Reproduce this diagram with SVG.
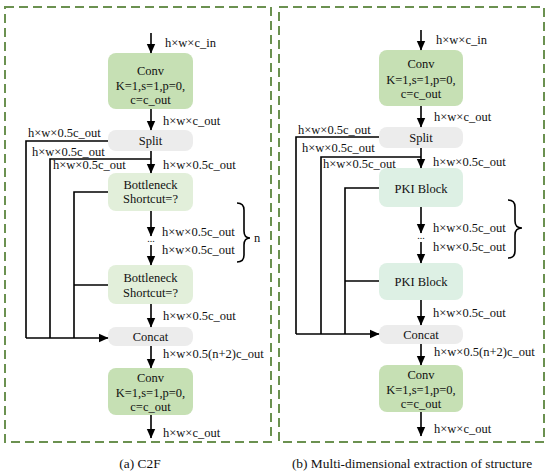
<svg xmlns="http://www.w3.org/2000/svg" width="550" height="474" viewBox="0 0 550 474">
<defs>
<marker id="ah" markerWidth="10" markerHeight="10" refX="9" refY="5" orient="auto" markerUnits="userSpaceOnUse">
<path d="M0,0.8 L9.5,5 L0,9.2 Z" fill="#000"/>
</marker>
<style>
text{font-family:"Liberation Serif","Times New Roman",serif;font-size:12.5px;fill:#111}
.c{text-anchor:middle}
.frame{fill:none;stroke:#6b9150;stroke-width:2;stroke-dasharray:9 5}
.conv{fill:#c6e0b4}
.bn{fill:#e2efda}
.gr{fill:#ececec}
.pki{fill:#ddf0e4}
.ln{fill:none;stroke:#000;stroke-width:1.6}
.ar{fill:none;stroke:#000;stroke-width:1.6;marker-end:url(#ah)}
.cap{font-size:13.4px}
</style>
</defs>
<rect width="550" height="474" fill="#fff"/>

<rect class="frame" x="5" y="7" width="266" height="435"/>
<rect class="frame" x="279" y="7" width="265" height="435"/>

<!-- Left panel nodes -->
<g id="a_conv1"><rect class="conv" x="108" y="53" width="85" height="56" rx="8"/>
<text class="c" x="150.5" y="75">Conv</text><text class="c" x="150.5" y="89.5">K=1,s=1,p=0,</text><text class="c" x="150.5" y="103.5">c=c_out</text></g>
<g id="a_split"><rect class="gr" x="108" y="130" width="85" height="21" rx="8"/><text class="c" x="150.5" y="145">Split</text></g>
<g id="a_bn1"><rect class="bn" x="108" y="173" width="85" height="38" rx="8"/>
<text class="c" x="150.5" y="188.5">Bottleneck</text><text class="c" x="150.5" y="203">Shortcut=?</text></g>
<g id="a_bn2"><rect class="bn" x="108" y="265" width="85" height="39" rx="8"/>
<text class="c" x="150.5" y="282">Bottleneck</text><text class="c" x="150.5" y="296.5">Shortcut=?</text></g>
<g id="a_concat"><rect class="gr" x="108" y="327" width="85" height="19" rx="8"/><text class="c" x="150.5" y="341">Concat</text></g>
<g id="a_conv2"><rect class="conv" x="108" y="368" width="85" height="47" rx="8"/>
<text class="c" x="150.5" y="382">Conv</text><text class="c" x="150.5" y="396.5">K=1,s=1,p=0,</text><text class="c" x="150.5" y="411">c=c_out</text></g>

<!-- Right panel nodes -->
<g id="b_conv1"><rect class="conv" x="379" y="50" width="84" height="56" rx="8"/>
<text class="c" x="421" y="68">Conv</text><text class="c" x="421" y="84">K=1,s=1,p=0,</text><text class="c" x="421" y="98">c=c_out</text></g>
<g id="b_split"><rect class="gr" x="379" y="127" width="84" height="21" rx="8"/><text class="c" x="421" y="142">Split</text></g>
<g id="b_pki1"><rect class="pki" x="379" y="168" width="84" height="39" rx="8"/><text class="c" x="421" y="192.5">PKI Block</text></g>
<g id="b_pki2"><rect class="pki" x="379" y="263" width="84" height="37" rx="8"/><text class="c" x="421" y="285.5">PKI Block</text></g>
<g id="b_concat"><rect class="gr" x="379" y="325" width="84" height="19" rx="8"/><text class="c" x="421" y="338.5">Concat</text></g>
<g id="b_conv2"><rect class="conv" x="379" y="365" width="84" height="47" rx="8"/>
<text class="c" x="421" y="378.5">Conv</text><text class="c" x="421" y="394">K=1,s=1,p=0,</text><text class="c" x="421" y="408">c=c_out</text></g>

<!-- Connectors -->
<g id="connectors">
<line class="ar" x1="151" y1="33" x2="151" y2="53"/>
<line class="ar" x1="151" y1="109" x2="151" y2="130"/>
<line class="ar" x1="151" y1="151" x2="151" y2="173"/>
<line class="ar" x1="151" y1="211" x2="151" y2="236"/>
<line class="ar" x1="151" y1="245" x2="151" y2="265"/>
<line class="ar" x1="151" y1="304" x2="151" y2="327"/>
<line class="ar" x1="151" y1="346" x2="151" y2="368"/>
<line class="ar" x1="151" y1="415" x2="151" y2="438"/>
<polyline class="ln" points="108,141 26,141 26,338"/>
<polyline class="ln" points="151,159 50,159 50,338"/>
<polyline class="ln" points="108,192 74,192 74,338"/>
<line class="ln" x1="74" y1="285" x2="108" y2="285"/>
<line class="ar" x1="26" y1="338" x2="108" y2="338"/>

<line class="ar" x1="421" y1="30" x2="421" y2="50"/>
<line class="ar" x1="421" y1="106" x2="421" y2="127"/>
<line class="ar" x1="421" y1="148" x2="421" y2="168"/>
<line class="ar" x1="421" y1="207" x2="421" y2="233"/>
<line class="ar" x1="421" y1="242" x2="421" y2="263"/>
<line class="ar" x1="421" y1="300" x2="421" y2="325"/>
<line class="ar" x1="421" y1="344" x2="421" y2="365"/>
<line class="ar" x1="421" y1="412" x2="421" y2="436"/>
<polyline class="ln" points="379,137 296,137 296,334"/>
<polyline class="ln" points="421,157 321,157 321,334"/>
<polyline class="ln" points="379,188 345,188 345,334"/>
<line class="ln" x1="345" y1="281" x2="379" y2="281"/>
<line class="ar" x1="296" y1="334" x2="379" y2="334"/>

<path class="ln" d="M237,203 Q244,203 244,210 L244,231 Q244,238 250,238 Q244,238 244,245 L244,255 Q244,262 237,262"/>
<path class="ln" d="M508,200 Q515,200 515,207 L515,221 Q515,228 522,228 Q515,228 515,235 L515,251 Q515,258 508,258"/>
</g>

<!-- dots -->
<text class="c" x="151" y="242" style="font-size:10px">...</text>
<text class="c" x="421" y="239" style="font-size:10px">...</text>

<!-- Left labels -->
<text x="165" y="47">h×w×c_in</text>
<text x="163" y="125">h×w×c_out</text>
<text x="28" y="137">h×w×0.5c_out</text>
<text x="32" y="156">h×w×0.5c_out</text>
<text x="53" y="169">h×w×0.5c_out</text>
<text x="163" y="169">h×w×0.5c_out</text>
<text x="162" y="236">h×w×0.5c_out</text>
<text x="162" y="254">h×w×0.5c_out</text>
<text x="254" y="242">n</text>
<text x="163" y="320">h×w×0.5c_out</text>
<text x="163" y="358">h×w×0.5(n+2)c_out</text>
<text x="163" y="437">h×w×c_out</text>
<text class="c cap" x="140" y="468">(a) C2F</text>

<!-- Right labels -->
<text x="436" y="44">h×w×c_in</text>
<text x="434" y="121">h×w×c_out</text>
<text x="298" y="134">h×w×0.5c_out</text>
<text x="302" y="152">h×w×0.5c_out</text>
<text x="323" y="168">h×w×0.5c_out</text>
<text x="433" y="166">h×w×0.5c_out</text>
<text x="433" y="232">h×w×0.5c_out</text>
<text x="433" y="251">h×w×0.5c_out</text>
<text x="433" y="317">h×w×0.5c_out</text>
<text x="434" y="356">h×w×0.5(n+2)c_out</text>
<text x="434" y="433">h×w×c_out</text>
<text class="c cap" x="412" y="468">(b) Multi-dimensional extraction of structure</text>
</svg>
